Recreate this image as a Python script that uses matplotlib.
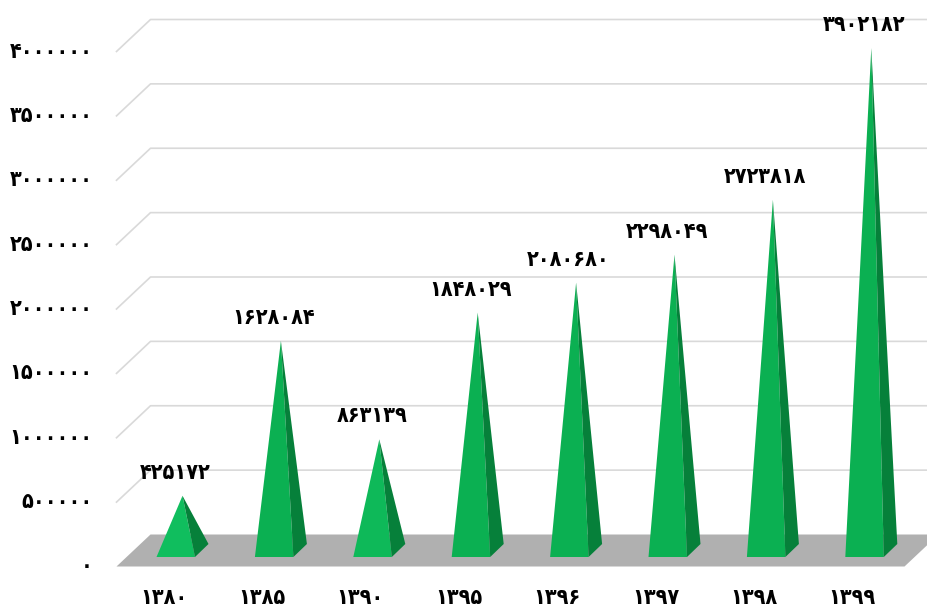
import matplotlib.pyplot as plt
from matplotlib.font_manager import FontProperties

years = [1380, 1385, 1390, 1395, 1396, 1397, 1398, 1399]
values = [425172, 1628084, 863139, 1848029, 2080680, 2298049, 2723818, 3902182]
ticks = [0, 500000, 1000000, 1500000, 2000000, 2500000, 3000000, 3500000, 4000000]
face_colors = ["#10be5e", "#0bb052", "#0eb959", "#0bb052", "#0bb052", "#0bb052", "#0bb052", "#0bb052"]

PERSIAN = str.maketrans("0123456789", "۰۱۲۳۴۵۶۷۸۹")


def fa(n):
    return str(n).translate(PERSIAN)


font = FontProperties(family="DejaVu Sans", stretch="condensed", weight="bold", size=15.5)

fig = plt.figure(figsize=(9.27, 6.12), dpi=100)
ax = fig.add_axes([0, 0, 1, 1])
ax.axis("off")

# axes span the whole figure, one category is 98.4 px, 4000000 is 515 px
xpx = 1 / 98.4
ypx = 4000000 / 515
ax.set_xlim(-182.5 * xpx, 744.5 * xpx)
ax.set_ylim(-61.5 * ypx, 550.5 * ypx)

# floor / wall depth
dx = 17 * xpx
dy = 16 * ypx
left = -49 * xpx
right = 739 * xpx

for t in ticks[1:]:
    ax.plot([left - dx, left + dx, right + dx], [t - dy, t + dy, t + dy],
            color="#d9d9d9", lw=1.2, zorder=1)

ax.fill([left - dx, left + dx, right + dx, right - dx], [-dy, dy, dy, -dy],
        color="#b0b0b0", lw=0, zorder=2)

# pyramids
w = 19.25 * xpx
d = 6.75 * xpx
h = 6.5 * ypx
for i, v in enumerate(values):
    ax.fill([i - w - d, i + w - d, i], [-h, -h, v], color=face_colors[i], lw=0, zorder=3)
    ax.fill([i + w - d, i + w + d, i], [-h, h, v], color="#06803a", lw=0, zorder=3)
    ax.annotate(fa(v), (i, v), xytext=(-5.5, 16.5), textcoords="offset points",
                ha="center", va="center", fontproperties=font, color="black", zorder=5)
    ax.text(i - dx - 2 * xpx, -48 * ypx, fa(years[i]), ha="center", va="center",
            fontproperties=font, color="black")

for t in ticks:
    ax.text(-90 * xpx, t - dy, fa(t), ha="right", va="center",
            fontproperties=font, color="black")

plt.savefig("out.png", dpi=100)
